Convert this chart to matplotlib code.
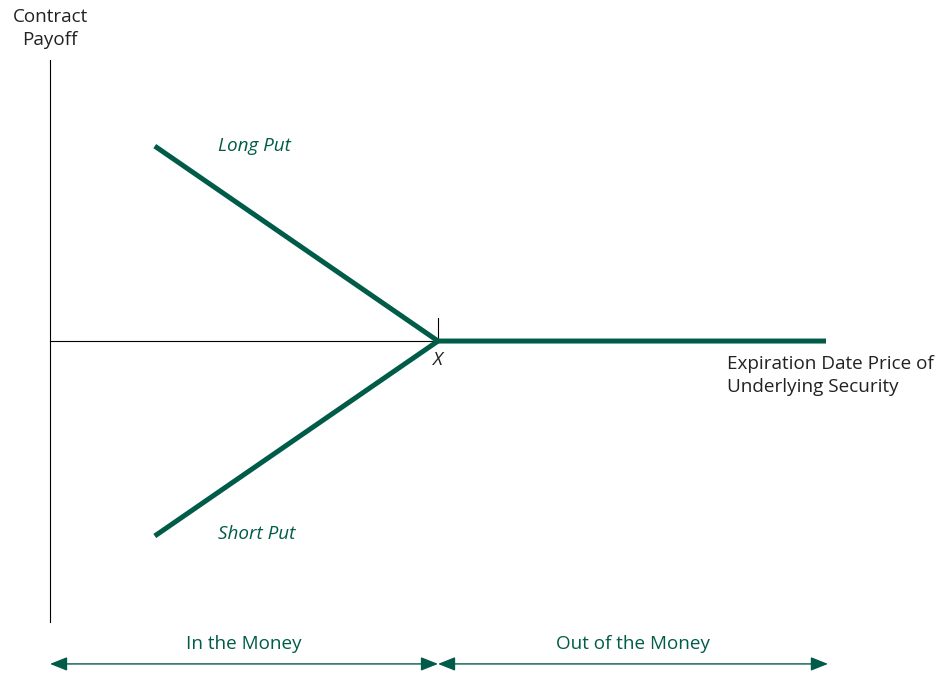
import matplotlib.pyplot as plt
import numpy as np

# Data
strike = 100.0
price = [27.0, 100.0, 200.0]
long_put = [73.0, 0.0, 0.0]
short_put = [-73.0, 0.0, 0.0]

GREEN = "#005c48"
plt.rcParams['font.family'] = ['Open Sans', 'DejaVu Sans']
FS = 13.6

fig = plt.figure(figsize=(9.49, 6.73), dpi=100)
ax = fig.add_axes([0, 0, 1, 1])
ax.set_xlim(-12.89, 231.7)
ax.set_ylim(-124.3, 127.7)
ax.axis('off')

# axes
ax.plot([0, 0], [-105.2, 105.2], color='black', lw=0.8)
ax.plot([0, strike], [0, 0], color='black', lw=0.8)
ax.plot([strike, strike], [0, 8.6], color='black', lw=0.8)

ax.plot(price, long_put, color=GREEN, lw=3.6, solid_capstyle='butt', solid_joinstyle='miter')
ax.plot(price[:2], short_put[:2], color=GREEN, lw=3.6, solid_capstyle='butt')

ax.text(0, 117.0, "Contract\nPayoff", ha='center', va='center', fontsize=FS, color='#222222', linespacing=1.35)
ax.text(174.5, -12.8, "Expiration Date Price of\nUnderlying Security", ha='left', va='center', fontsize=FS, color='#222222', linespacing=1.35)
ax.text(strike, -7.1, "X", ha='center', va='center', fontsize=FS, style='italic', color='#222222')
ax.text(43.3, 73, "Long Put", ha='left', va='center', fontsize=FS, style='italic', color=GREEN)
ax.text(43.3, -72.3, "Short Put", ha='left', va='center', fontsize=FS, style='italic', color=GREEN)

ya = -120.9
for x0, x1, lbl in [(0, strike, "In the Money"), (strike, 200.5, "Out of the Money")]:
    ax.annotate("", xy=(x1, ya), xytext=(x0, ya),
                arrowprops=dict(arrowstyle='<|-|>,head_length=1.05,head_width=0.42',
                                color=GREEN, lw=1.0, shrinkA=0, shrinkB=0))
    ax.text((x0 + x1) / 2, -113.3, lbl, ha='center', va='center', fontsize=FS, color=GREEN)

fig.savefig("out.png", dpi=100)
